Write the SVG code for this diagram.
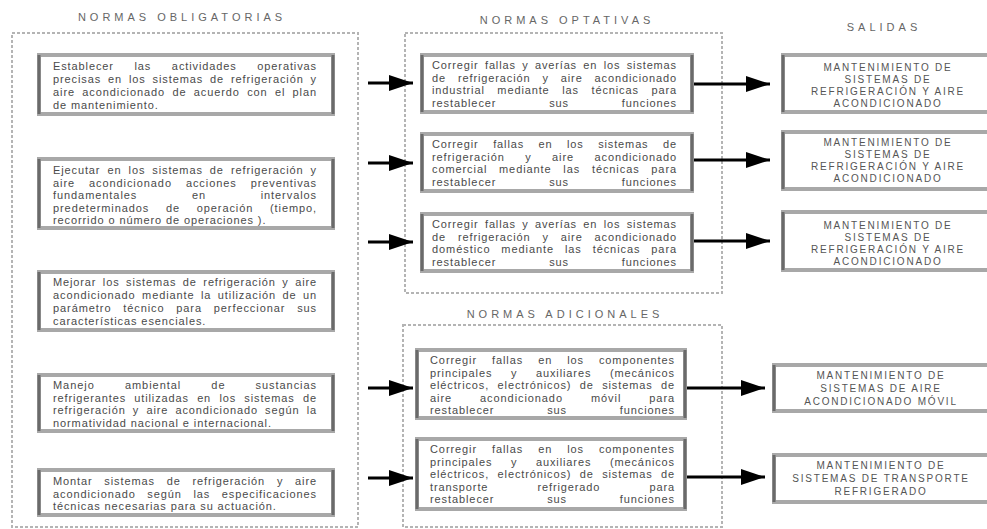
<svg xmlns="http://www.w3.org/2000/svg" width="987" height="529" viewBox="0 0 987 529">
<style>
  .cont{fill:none;stroke:#b4b4b4;stroke-width:2;stroke-dasharray:3 2}
  .box{fill:#fff;stroke:#a8a8a8;stroke-width:4}
  .edge{stroke:#6a6a6a;stroke-width:3}
  .title{font-family:"Liberation Sans",Arial,sans-serif;font-size:11px;fill:#666;letter-spacing:4px;text-anchor:middle}
  .t{font-family:"Liberation Sans",Arial,sans-serif;font-size:11px;letter-spacing:0.9px;fill:#4a4a4a}
  .s{font-family:"Liberation Sans",Arial,sans-serif;font-size:10px;fill:#555;letter-spacing:1.8px;text-anchor:middle}
  .arr{stroke:#000;stroke-width:3;fill:none}
</style>
<defs>
  <marker id="ah" viewBox="0 0 24 16" refX="24" refY="8" markerWidth="24" markerHeight="16" markerUnits="userSpaceOnUse" orient="auto">
    <path d="M0,0 L24,8 L0,16 Z" fill="#000"/>
  </marker>
</defs>
<rect width="987" height="529" fill="#fff"/>

<g id="containers">
  <rect class="cont" x="12" y="33" width="346" height="494"/>
  <rect class="cont" x="405" y="33" width="317" height="260"/>
  <rect class="cont" x="403" y="325" width="319" height="202"/>
</g>

<g id="titles">
  <text class="title" x="182" y="21">NORMAS OBLIGATORIAS</text>
  <text class="title" x="567" y="24">NORMAS OPTATIVAS</text>
  <text class="title" x="565" y="318">NORMAS ADICIONALES</text>
  <text class="title" x="884" y="31">SALIDAS</text>
</g>

<g id="ob1">
  <rect class="box" x="39" y="55" width="294" height="59"/>
  <line class="edge" x1="39" y1="55" x2="39" y2="114"/><line class="edge" x1="333" y1="55" x2="333" y2="114"/>
  <text class="t" x="53" y="70" word-spacing="16.7" textLength="264" lengthAdjust="spacing">Establecer las actividades operativas</text>
  <text class="t" x="53" y="83" word-spacing="3" textLength="264" lengthAdjust="spacing">precisas en los sistemas de refrigeración y</text>
  <text class="t" x="53" y="96" word-spacing="3.3" textLength="264" lengthAdjust="spacing">aire acondicionado de acuerdo con el plan</text>
  <text class="t" x="53" y="109">de mantenimiento.</text>
</g>

<g id="ob2">
  <rect class="box" x="39" y="159" width="294" height="69"/>
  <line class="edge" x1="39" y1="159" x2="39" y2="228"/><line class="edge" x1="333" y1="159" x2="333" y2="228"/>
  <text class="t" x="53" y="174" word-spacing="3.2" textLength="264" lengthAdjust="spacing">Ejecutar en los sistemas de refrigeración y</text>
  <text class="t" x="53" y="186.5" word-spacing="10" textLength="264" lengthAdjust="spacing">aire acondicionado acciones preventivas</text>
  <text class="t" x="53" y="199" word-spacing="50.7" textLength="264" lengthAdjust="spacing">fundamentales en intervalos</text>
  <text class="t" x="53" y="211.5" word-spacing="12.8" textLength="264" lengthAdjust="spacing">predeterminados de operación (tiempo,</text>
  <text class="t" x="53" y="224">recorrido o número de operaciones ).</text>
</g>

<g id="ob3">
  <rect class="box" x="39" y="272" width="294" height="58"/>
  <line class="edge" x1="39" y1="272" x2="39" y2="330"/><line class="edge" x1="333" y1="272" x2="333" y2="330"/>
  <text class="t" x="53" y="286" word-spacing="2.6" textLength="264" lengthAdjust="spacing">Mejorar los sistemas de refrigeración y aire</text>
  <text class="t" x="53" y="299" word-spacing="2.5" textLength="264" lengthAdjust="spacing">acondicionado mediante la utilización de un</text>
  <text class="t" x="53" y="312" word-spacing="7.8" textLength="264" lengthAdjust="spacing">parámetro técnico para perfeccionar sus</text>
  <text class="t" x="53" y="325">características esenciales.</text>
</g>

<g id="ob4">
  <rect class="box" x="39" y="375" width="294" height="56"/>
  <line class="edge" x1="39" y1="375" x2="39" y2="431"/><line class="edge" x1="333" y1="375" x2="333" y2="431"/>
  <text class="t" x="53" y="389" word-spacing="26.1" textLength="264" lengthAdjust="spacing">Manejo ambiental de sustancias</text>
  <text class="t" x="53" y="401.5" word-spacing="4.4" textLength="264" lengthAdjust="spacing">refrigerantes utilizadas en los sistemas de</text>
  <text class="t" x="53" y="414" word-spacing="3.2" textLength="264" lengthAdjust="spacing">refrigeración y aire acondicionado según la</text>
  <text class="t" x="53" y="426.5">normatividad nacional e internacional.</text>
</g>

<g id="ob5">
  <rect class="box" x="39" y="470" width="294" height="45"/>
  <line class="edge" x1="39" y1="470" x2="39" y2="515"/><line class="edge" x1="333" y1="470" x2="333" y2="515"/>
  <text class="t" x="53" y="485" word-spacing="7.9" textLength="264" lengthAdjust="spacing">Montar sistemas de refrigeración y aire</text>
  <text class="t" x="53" y="497.5" word-spacing="7.6" textLength="264" lengthAdjust="spacing">acondicionado según las especificaciones</text>
  <text class="t" x="53" y="510">técnicas necesarias para su actuación.</text>
</g>

<g id="op1">
  <rect class="box" x="422" y="55" width="270" height="57"/>
  <line class="edge" x1="422" y1="55" x2="422" y2="112"/><line class="edge" x1="692" y1="55" x2="692" y2="112"/>
  <text class="t" x="432" y="69" word-spacing="2.5" textLength="245" lengthAdjust="spacing">Corregir fallas y averías en los sistemas</text>
  <text class="t" x="432" y="81.5" word-spacing="8" textLength="245" lengthAdjust="spacing">de refrigeración y aire acondicionado</text>
  <text class="t" x="432" y="94" word-spacing="8.7" textLength="245" lengthAdjust="spacing">industrial mediante las técnicas para</text>
  <text class="t" x="432" y="106.5" word-spacing="48.8" textLength="245" lengthAdjust="spacing">restablecer sus funciones</text>
</g>

<g id="op2">
  <rect class="box" x="422" y="134" width="270" height="57"/>
  <line class="edge" x1="422" y1="134" x2="422" y2="191"/><line class="edge" x1="692" y1="134" x2="692" y2="191"/>
  <text class="t" x="432" y="148" word-spacing="10.6" textLength="245" lengthAdjust="spacing">Corregir fallas en los sistemas de</text>
  <text class="t" x="432" y="160.5" word-spacing="16.6" textLength="245" lengthAdjust="spacing">refrigeración y aire acondicionado</text>
  <text class="t" x="432" y="173" word-spacing="7.8" textLength="245" lengthAdjust="spacing">comercial mediante las técnicas para</text>
  <text class="t" x="432" y="185.5" word-spacing="48.8" textLength="245" lengthAdjust="spacing">restablecer sus funciones</text>
</g>

<g id="op3">
  <rect class="box" x="422" y="214" width="270" height="57"/>
  <line class="edge" x1="422" y1="214" x2="422" y2="271"/><line class="edge" x1="692" y1="214" x2="692" y2="271"/>
  <text class="t" x="432" y="228" word-spacing="2.5" textLength="245" lengthAdjust="spacing">Corregir fallas y averías en los sistemas</text>
  <text class="t" x="432" y="240.5" word-spacing="8" textLength="245" lengthAdjust="spacing">de refrigeración y aire acondicionado</text>
  <text class="t" x="432" y="253" word-spacing="6.9" textLength="245" lengthAdjust="spacing">doméstico mediante las técnicas para</text>
  <text class="t" x="432" y="265.5" word-spacing="48.8" textLength="245" lengthAdjust="spacing">restablecer sus funciones</text>
</g>

<g id="ad1">
  <rect class="box" x="417" y="350" width="268" height="68"/>
  <line class="edge" x1="417" y1="350" x2="417" y2="418"/><line class="edge" x1="685" y1="350" x2="685" y2="418"/>
  <text class="t" x="430" y="364" word-spacing="11" textLength="245" lengthAdjust="spacing">Corregir fallas en los componentes</text>
  <text class="t" x="430" y="376.5" word-spacing="14.7" textLength="245" lengthAdjust="spacing">principales y auxiliares (mecánicos</text>
  <text class="t" x="430" y="389" word-spacing="4.5" textLength="245" lengthAdjust="spacing">eléctricos, electrónicos) de sistemas de</text>
  <text class="t" x="430" y="401.5" word-spacing="24.1" textLength="245" lengthAdjust="spacing">aire acondicionado móvil para</text>
  <text class="t" x="430" y="414" word-spacing="48.8" textLength="245" lengthAdjust="spacing">restablecer sus funciones</text>
</g>

<g id="ad2">
  <rect class="box" x="417" y="439" width="268" height="70"/>
  <line class="edge" x1="417" y1="439" x2="417" y2="509"/><line class="edge" x1="685" y1="439" x2="685" y2="509"/>
  <text class="t" x="430" y="453" word-spacing="11" textLength="245" lengthAdjust="spacing">Corregir fallas en los componentes</text>
  <text class="t" x="430" y="465.5" word-spacing="14.7" textLength="245" lengthAdjust="spacing">principales y auxiliares (mecánicos</text>
  <text class="t" x="430" y="478" word-spacing="4.5" textLength="245" lengthAdjust="spacing">eléctricos, electrónicos) de sistemas de</text>
  <text class="t" x="430" y="490.5" word-spacing="45.2" textLength="245" lengthAdjust="spacing">transporte refrigerado para</text>
  <text class="t" x="430" y="503" word-spacing="48.8" textLength="245" lengthAdjust="spacing">restablecer sus funciones</text>
</g>

<g id="sal1">
  <rect class="box" x="783" y="55" width="220" height="57"/>
  <line class="edge" x1="783" y1="55" x2="783" y2="112"/>
  <text class="s" x="888" y="71">MANTENIMIENTO DE</text>
  <text class="s" x="888" y="83">SISTEMAS DE</text>
  <text class="s" x="888" y="95">REFRIGERACIÓN Y AIRE</text>
  <text class="s" x="888" y="107">ACONDICIONADO</text>
</g>

<g id="sal2">
  <rect class="box" x="783" y="132" width="220" height="57"/>
  <line class="edge" x1="783" y1="132" x2="783" y2="189"/>
  <text class="s" x="888" y="146">MANTENIMIENTO DE</text>
  <text class="s" x="888" y="158">SISTEMAS DE</text>
  <text class="s" x="888" y="170">REFRIGERACIÓN Y AIRE</text>
  <text class="s" x="888" y="182">ACONDICIONADO</text>
</g>

<g id="sal3">
  <rect class="box" x="783" y="212" width="220" height="58"/>
  <line class="edge" x1="783" y1="212" x2="783" y2="270"/>
  <text class="s" x="888" y="229">MANTENIMIENTO DE</text>
  <text class="s" x="888" y="241">SISTEMAS DE</text>
  <text class="s" x="888" y="253">REFRIGERACIÓN Y AIRE</text>
  <text class="s" x="888" y="265">ACONDICIONADO</text>
</g>

<g id="sal4">
  <rect class="box" x="774" y="365" width="220" height="46"/>
  <line class="edge" x1="774" y1="365" x2="774" y2="411"/>
  <text class="s" x="881" y="379">MANTENIMIENTO DE</text>
  <text class="s" x="881" y="392">SISTEMAS DE AIRE</text>
  <text class="s" x="881" y="405">ACONDICIONADO MÓVIL</text>
</g>

<g id="sal5">
  <rect class="box" x="774" y="455" width="220" height="47"/>
  <line class="edge" x1="774" y1="455" x2="774" y2="502"/>
  <text class="s" x="881" y="469">MANTENIMIENTO DE</text>
  <text class="s" x="881" y="482">SISTEMAS DE TRANSPORTE</text>
  <text class="s" x="881" y="495">REFRIGERADO</text>
</g>

<g id="connectors">
  <line class="arr" x1="368" y1="83" x2="413" y2="83" marker-end="url(#ah)"/>
  <line class="arr" x1="368" y1="163" x2="413" y2="163" marker-end="url(#ah)"/>
  <line class="arr" x1="368" y1="242" x2="413" y2="242" marker-end="url(#ah)"/>
  <line class="arr" x1="368" y1="388" x2="413" y2="388" marker-end="url(#ah)"/>
  <line class="arr" x1="368" y1="478" x2="413" y2="478" marker-end="url(#ah)"/>
  <line class="arr" x1="694" y1="84" x2="770" y2="84" marker-end="url(#ah)"/>
  <line class="arr" x1="694" y1="160" x2="770" y2="160" marker-end="url(#ah)"/>
  <line class="arr" x1="694" y1="241" x2="770" y2="241" marker-end="url(#ah)"/>
  <line class="arr" x1="687" y1="388" x2="765" y2="388" marker-end="url(#ah)"/>
  <line class="arr" x1="687" y1="477" x2="765" y2="477" marker-end="url(#ah)"/>
</g>
</svg>
